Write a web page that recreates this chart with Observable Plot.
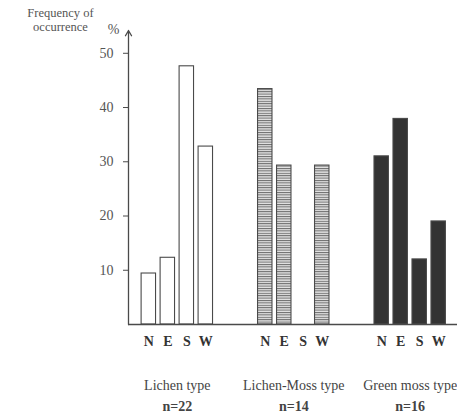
<!DOCTYPE html>
<html><head><meta charset="utf-8">
<script src="https://cdn.jsdelivr.net/npm/d3@7"></script>
<script src="https://cdn.jsdelivr.net/npm/@observablehq/plot@0.6"></script>
<style>body{margin:0;background:#fff}</style>
</head><body><div id="chart"></div>
<script>
const groups = ["Lichen type", "Lichen-Moss type", "Green moss type"];
const counts = ["n=22", "n=14", "n=16"];
const dirs = ["N", "E", "S", "W"];
const lichen = [9.4, 12.3, 47.6, 32.8];
const lichenMoss = [43.4, 29.3, 0, 29.3];
const greenMoss = [31.0, 37.9, 12.0, 19.0];
const yTicks = [10, 20, 30, 40, 50];

const series = [lichen, lichenMoss, greenMoss];
const GROUP_STEP = 6.13;
const HALF = 0.38;
const xDomain = [-1.07, 16.25];
const yTop = 54.2;

const rows = groups.flatMap((g, gi) => dirs.map((d, di) => ({
  group: g, gi, dir: d, value: series[gi][di], pos: gi * GROUP_STEP + di
})));
const groupRows = groups.map((g, gi) => ({group: g, count: counts[gi], center: gi * GROUP_STEP + 1.5}));
const barsOf = gi => rows.filter(r => r.gi === gi && r.value > 0);

const ink = "#4a4a4a";
const barOpts = (fill) => ({x1: d => d.pos - HALF, x2: d => d.pos + HALF, y: "value", fill, stroke: ink, strokeWidth: 1.1});
const label = {lineAnchor: "middle", textAnchor: "middle"};

const chart = Plot.plot({
  width: 457, height: 415,
  marginLeft: 128, marginRight: 0, marginTop: 30, marginBottom: 91,
  style: {fontFamily: "'Liberation Serif', 'DejaVu Serif', serif", background: "#fff", color: ink},
  x: {type: "linear", domain: xDomain, axis: null},
  y: {domain: [0, yTop], axis: null},
  marks: [
    Plot.axisY({ticks: yTicks, tickSize: 5, tickPadding: 10, label: null, fontSize: 14, stroke: ink, fill: "#555"}),
    Plot.rectY(barsOf(0), barOpts("#fff")),
    Plot.rectY(barsOf(1), barOpts("url(#hatch)")),
    Plot.rectY(barsOf(2), barOpts("#333")),
    Plot.ruleY([0], {stroke: ink, strokeWidth: 1.3}),
    Plot.arrow([0], {x1: xDomain[0], x2: xDomain[0], y1: 0, y2: yTop, stroke: ink, strokeWidth: 1.3, headLength: 7}),
    Plot.text(rows, {...label, x: "pos", text: "dir", frameAnchor: "bottom", dy: 17, fontWeight: "bold", fontSize: 14, fill: "#333"}),
    Plot.text(groupRows, {...label, x: "center", text: "group", frameAnchor: "bottom", dy: 61, fontSize: 14, fill: "#444"}),
    Plot.text(groupRows, {...label, x: "center", text: "count", frameAnchor: "bottom", dy: 82, fontSize: 14, fontWeight: "bold", fill: "#444"}),
    Plot.text(["Frequency of"], {...label, frameAnchor: "top-left", dx: -68, dy: -18, fontSize: 12.5, fill: "#555"}),
    Plot.text(["occurrence"], {...label, frameAnchor: "top-left", dx: -68, dy: -4, fontSize: 12.5, fill: "#555"}),
    Plot.text(["%"], {...label, frameAnchor: "top-left", dx: -15, dy: -1, fontSize: 14, fill: "#555"})
  ]
});

const ns = "http://www.w3.org/2000/svg";
const defs = document.createElementNS(ns, "defs");
defs.innerHTML = `<pattern id="hatch" patternUnits="userSpaceOnUse" width="6" height="2.4">
  <rect width="6" height="2.4" fill="#e4e4e4"/>
  <rect width="6" height="1" y="0" fill="#6a6a6a"/>
</pattern>`;
chart.insertBefore(defs, chart.firstChild);
document.getElementById("chart").append(chart);
</script>
</body></html>
